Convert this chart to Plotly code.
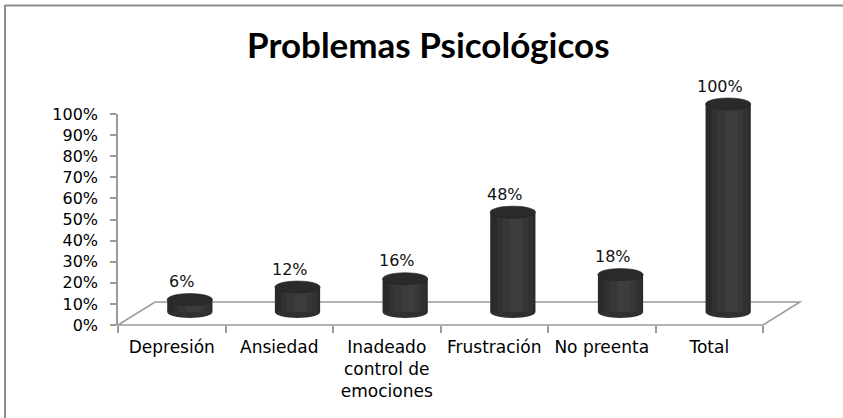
import plotly.graph_objects as go

categories = ["Depresión", "Ansiedad", "Inadeado<br>control de<br>emociones", "Frustración", "No preenta", "Total"]
values = [0.06, 0.12, 0.16, 0.48, 0.18, 1.00]
value_labels = ["6%", "12%", "16%", "48%", "18%", "100%"]
y_ticks = [i / 10 for i in range(11)]
y_tick_labels = [f"{i*10}%" for i in range(11)]
title_text = "Problemas Psicológicos"

W, H = 843, 418
def px(x):
    return x / W
def py(y):
    return 1 - y / H

TITLE_FONT = "Lato, 'DejaVu Sans', sans-serif"
FONT = "'DejaVu Sans', Lato, sans-serif"
idx = list(range(len(categories)))

fig = go.Figure()

# cylinder bodies (layered to fake shading)
body_layers = [(0.42, None, "#2a2a2a"), (0.34, -0.15, "#313131"), (0.24, -0.10, "#373737"), (0.12, -0.03, "#3d3d3d")]
for w, off, col in body_layers:
    fig.add_trace(go.Bar(x=idx, y=values, width=w, offset=off,
                         marker=dict(color=col, line=dict(width=0)),
                         xaxis="x2", yaxis="y2", hoverinfo="skip"))
# category axis carrier
fig.add_trace(go.Scatter(x=categories, y=[None]*len(categories), mode="markers", xaxis="x", yaxis="y",
                         showlegend=False, hoverinfo="skip"))

unit_px = 208.0
cap = 6.0 / unit_px
half_w = 0.21
shapes = []
# floor
shapes.append(dict(type="path", xref="paper", yref="paper", layer="below",
                   path=f"M {px(118)} {py(325)} L {px(155)} {py(302)} L {px(800)} {py(302)} L {px(763)} {py(325)} Z",
                   line=dict(color="#9a9a9a", width=1.5), fillcolor="rgba(0,0,0,0)"))
for i, v in zip(idx, values):
    # bottom cap
    shapes.append(dict(type="circle", xref="x2", yref="y2", layer="below",
                       x0=i - half_w, x1=i + half_w, y0=-cap, y1=cap,
                       fillcolor="#303030", line=dict(width=0)))
    # top cap
    shapes.append(dict(type="circle", xref="x2", yref="y2", layer="above",
                       x0=i - half_w, x1=i + half_w, y0=v - cap, y1=v + cap,
                       fillcolor="#2a2a2a", line=dict(color="#222222", width=0.6)))
# chart frame (top and left edges)
shapes.append(dict(type="line", xref="paper", yref="paper", x0=px(5), x1=1, y0=py(5.5), y1=py(5.5),
                   line=dict(color="#8c8c8c", width=2)))
shapes.append(dict(type="line", xref="paper", yref="paper", x0=px(5), x1=px(5), y0=py(5), y1=0,
                   line=dict(color="#8c8c8c", width=2)))

annotations = [dict(text=f"<b>{title_text}</b>", xref="paper", yref="paper", x=px(428), y=py(44),
                    xanchor="center", yanchor="middle", showarrow=False,
                    font=dict(family=TITLE_FONT, size=35, color="#000000"))]
for i, v, t in zip(idx, values, value_labels):
    annotations.append(dict(text=t, xref="x2", yref="y2", x=i, y=v, xshift=-8, yshift=18,
                            xanchor="center", yanchor="middle", showarrow=False,
                            font=dict(family=FONT, size=16, color="#111111")))

fig.update_layout(
    width=W, height=H, autosize=False,
    margin=dict(l=0, r=0, t=0, b=0, pad=0),
    paper_bgcolor="white", plot_bgcolor="rgba(0,0,0,0)",
    showlegend=False, barmode="overlay",
    font=dict(family=FONT, size=16, color="#000000"),
    xaxis=dict(domain=[px(118), px(763)], anchor="y", type="category", automargin=False,
               range=[-0.5, len(categories) - 0.5], tickson="boundaries",
               ticks="outside", ticklen=7, tickcolor="#9a9a9a", tickwidth=1.5,
               ticklabelstandoff=10,
               showline=False, showgrid=False, zeroline=False,
               tickfont=dict(family=FONT, size=17, color="#000000")),
    yaxis=dict(domain=[py(325), py(114)], anchor="x", range=[0, 1], automargin=False,
               tickvals=y_ticks, ticktext=y_tick_labels,
               ticks="outside", ticklen=6, tickcolor="#9a9a9a", tickwidth=1.5,
               ticklabelstandoff=9,
               showline=True, linecolor="#9a9a9a", linewidth=1.5,
               showgrid=False, zeroline=False,
               tickfont=dict(family=FONT, size=16, color="#000000")),
    xaxis2=dict(domain=[px(136), px(782)], anchor="y2", range=[-0.5, len(categories) - 0.5],
                visible=False, automargin=False),
    yaxis2=dict(domain=[py(322.4), py(93.6)], anchor="x2", range=[-0.05, 1.05], visible=False,
                automargin=False),
    shapes=shapes, annotations=annotations,
)

post = (
    "document.documentElement.style.margin='0';"
    "document.documentElement.style.overflow='hidden';"
    "document.body.style.margin='0';"
    "document.body.style.overflow='hidden';"
    "var d=document.getElementById('{plot_id}');"
    "d.style.position='fixed';d.style.top='0px';d.style.left='0px';"
)
fig.write_html("out.html", config={"displayModeBar": False}, post_script=post)
